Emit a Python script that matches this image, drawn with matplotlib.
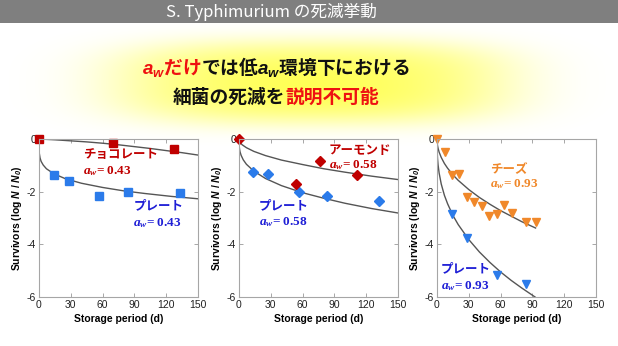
import matplotlib
matplotlib.use("Agg")
import matplotlib.pyplot as plt
import numpy as np
from matplotlib.patches import Rectangle

plt.rcParams['font.family'] = ['Liberation Sans', 'Noto Sans CJK JP', 'DejaVu Sans']
plt.rcParams['axes.unicode_minus'] = False
plt.rcParams['mathtext.fontset'] = 'custom'
plt.rcParams['mathtext.it'] = 'Liberation Serif:italic:bold'
plt.rcParams['mathtext.rm'] = 'Liberation Serif:bold'
plt.rcParams['mathtext.sf'] = 'Liberation Sans:italic:bold'

JP = ['Noto Sans CJK JP', 'DejaVu Sans']

# --- survival data (log N/N0 vs storage days) ---
# chocolate, aw 0.43
choco_t = [0, 70, 127]
choco_y = [0, -0.15, -0.37]
choco_fit_t = [0, 15, 30, 45, 60, 75, 90, 105, 120, 135, 150]
choco_fit_y = [0, -0.03, -0.07, -0.11, -0.16, -0.22, -0.29, -0.36, -0.44, -0.52, -0.61]
plate43_t = [14, 28, 56.5, 84, 133]
plate43_y = [-1.37, -1.58, -2.15, -2.01, -2.05]
plate43_fit_t = [0, 0.3, 1, 2, 4, 7, 14, 25, 40, 60, 80, 100, 125, 150]
plate43_fit_y = [0, -0.55, -0.72, -0.85, -0.99, -1.13, -1.32, -1.51, -1.68, -1.84, -1.97, -2.07, -2.18, -2.27]

# almond, aw 0.58
almond_t = [0, 54, 76, 111]
almond_y = [0, -1.71, -0.82, -1.35]
almond_fit_t = [0, 0.2, 1, 3, 7, 14, 25, 40, 60, 80, 100, 125, 150]
almond_fit_y = [0, -0.06, -0.13, -0.22, -0.33, -0.47, -0.63, -0.80, -0.97, -1.13, -1.26, -1.41, -1.54]
plate58_t = [13, 27, 56.5, 83, 132]
plate58_y = [-1.25, -1.32, -2.03, -2.18, -2.37]
plate58_fit_t = [0, 0.2, 0.5, 1, 2, 4, 7, 14, 25, 40, 60, 80, 100, 125, 150]
plate58_fit_y = [0, -0.28, -0.38, -0.49, -0.62, -0.79, -0.96, -1.22, -1.50, -1.77, -2.04, -2.25, -2.44, -2.64, -2.81]

# cheese, aw 0.93
cheese_t = [0, 7.6, 14.5, 21, 28, 35, 42, 49.5, 56.5, 63.5, 70.5, 84, 93]
cheese_y = [0, -0.49, -1.37, -1.34, -2.22, -2.39, -2.54, -2.94, -2.84, -2.51, -2.80, -3.15, -3.15]
cheese_fit_t = [0, 0.1, 0.5, 1, 2, 4, 7, 10, 15, 20, 30, 40, 50, 60, 70, 80, 93]
cheese_fit_y = [0, -0.11, -0.25, -0.35, -0.50, -0.70, -0.93, -1.11, -1.36, -1.57, -1.92, -2.22, -2.48,
                -2.72, -2.93, -3.14, -3.38]
plate93_t = [14, 28.5, 57, 84]
plate93_y = [-2.84, -3.75, -5.15, -5.49]
plate93_fit_t = [0, 0.1, 0.5, 1, 2, 4, 7, 10, 15, 20, 30, 40, 50, 60, 70, 80, 92.5]
plate93_fit_y = [0, -0.39, -0.74, -0.98, -1.29, -1.71, -2.14, -2.46, -2.90, -3.25, -3.82, -4.29, -4.69,
                 -5.05, -5.37, -5.66, -6.0]

W, H = 618, 346
fig = plt.figure(figsize=(W / 100, H / 100), dpi=100)

# soft yellow glow behind the headline (rounded box shape)
bg = fig.add_axes([0, 0, 1, 1], zorder=-5)
bg.axis('off')
yy, xx = np.mgrid[0:H, 0:W]
r = (np.abs((xx - 312) / 200.0) ** 3 + np.abs((yy - 82) / 42.0) ** 3) ** (1 / 3.0)
alpha = 0.8 * np.exp(-r ** 4) + 0.15 * np.exp(-(((xx - 312) / 90.0) ** 2 + ((yy - 85) / 25.0) ** 2))
alpha = np.clip(alpha, 0, 1)
img = np.zeros((H, W, 4))
img[..., 0] = 1.0
img[..., 1] = 1.0
img[..., 2] = 0.3
img[..., 3] = alpha
bg.imshow(img, extent=[0, W, H, 0], aspect='auto', interpolation='bilinear')
bg.set_xlim(0, W)
bg.set_ylim(H, 0)

# grey title bar
fig.patches.append(Rectangle((0, 1 - 23 / H), 1, 23 / H, transform=fig.transFigure,
                             facecolor='#7f7f7f', edgecolor='none', zorder=-4))
fig.text(271 / W, 1 - 11.5 / H, 'S. Typhimurium の死滅挙動', color='white', fontsize=12,
         family=JP, ha='center', va='center')


def text_runs(runs, xc, ybase, **kw):
    rend = fig.canvas.get_renderer()
    texts = [fig.text(0, ybase, s, color=c, ha='left', va='baseline', **kw) for s, c in runs]
    widths = [t.get_window_extent(rend).width / W for t in texts]
    x = xc - sum(widths) / 2
    for t, w in zip(texts, widths):
        t.set_x(x)
        x += w


RED = '#ee1111'
text_runs([(r'$\mathsf{a_w}$だけ', RED), (r'では低$\mathsf{a_w}$環境下における', '#111111')],
          276 / W, 1 - 74 / H, fontsize=13.5, family=JP, weight='bold')
text_runs([('細菌の死滅を', '#111111'), ('説明不可能', RED)],
          276 / W, 1 - 103 / H, fontsize=13.5, family=JP, weight='bold')

DRED = '#c00000'
BLUE = '#2b7bea'
LBL_BLUE = '#1f1fd6'
ORANGE = '#f0882a'
FIT = '#555555'

lefts = [39, 239, 437]
axes = [fig.add_axes([l / W, 1 - 297 / H, 159 / W, 158 / H]) for l in lefts]


def style(ax):
    ax.set_xlim(0, 150)
    ax.set_ylim(-6, 0)
    ax.set_xticks([0, 30, 60, 90, 120, 150])
    ax.set_yticks([-6, -4, -2, 0])
    ax.tick_params(direction='in', top=True, right=True, length=3, width=0.6,
                   color='#999999', labelsize=7.5, pad=2, labelcolor='#222222')
    for s in ax.spines.values():
        s.set_color('#a6a6a6')
        s.set_linewidth(0.8)
    ax.set_xlabel('Storage period (d)', fontsize=7.5, weight='bold', labelpad=3)
    ax.set_ylabel(r'Survivors (log $\mathsf{N}$ / $\mathsf{N_0}$)', fontsize=7.5,
                  weight='bold', labelpad=2)


def aw_label(ax, x, y, s, color):
    ax.text(x, y, r'$a_w$= ' + s, color=color, fontsize=9.5, family='Liberation Serif',
            weight='bold', ha='left', va='center')


def name_label(ax, x, y, s, color):
    ax.text(x, y, s, color=color, fontsize=9, family=JP, weight='bold', ha='left', va='center')


# panel 1: chocolate
ax = axes[0]
style(ax)
ax.plot(choco_fit_t, choco_fit_y, color=FIT, lw=1)
ax.plot(plate43_fit_t, plate43_fit_y, color=FIT, lw=1)
ax.plot(plate43_t, plate43_y, 's', color=BLUE, ms=6, clip_on=False)
ax.plot(choco_t, choco_y, 's', color=DRED, ms=6, clip_on=False)
name_label(ax, 41.5, -0.57, 'チョコレート', DRED)
aw_label(ax, 41.5, -1.23, '0.43', DRED)
name_label(ax, 89, -2.53, 'プレート', LBL_BLUE)
aw_label(ax, 89, -3.19, '0.43', LBL_BLUE)

# panel 2: almond
ax = axes[1]
style(ax)
ax.plot(almond_fit_t, almond_fit_y, color=FIT, lw=1)
ax.plot(plate58_fit_t, plate58_fit_y, color=FIT, lw=1)
ax.plot(plate58_t, plate58_y, 'D', color=BLUE, ms=5, clip_on=False)
ax.plot(almond_t, almond_y, 'D', color=DRED, ms=5, clip_on=False)
name_label(ax, 84.5, -0.45, 'アーモンド', DRED)
aw_label(ax, 84.5, -0.98, '0.58', DRED)
name_label(ax, 19, -2.53, 'プレート', LBL_BLUE)
aw_label(ax, 19, -3.16, '0.58', LBL_BLUE)

# panel 3: cheese
ax = axes[2]
style(ax)
ax.plot(cheese_fit_t, cheese_fit_y, color=FIT, lw=1)
ax.plot(plate93_fit_t, plate93_fit_y, color=FIT, lw=1)
ax.plot(plate93_t, plate93_y, 'v', color=BLUE, ms=6, clip_on=False)
ax.plot(cheese_t, cheese_y, 'v', color=ORANGE, ms=6, clip_on=False)
name_label(ax, 50, -1.16, 'チーズ', ORANGE)
aw_label(ax, 50, -1.7, '0.93', ORANGE)
name_label(ax, 3.5, -4.94, 'プレート', LBL_BLUE)
aw_label(ax, 3.5, -5.6, '0.93', LBL_BLUE)

fig.savefig('out.png', dpi=100)
